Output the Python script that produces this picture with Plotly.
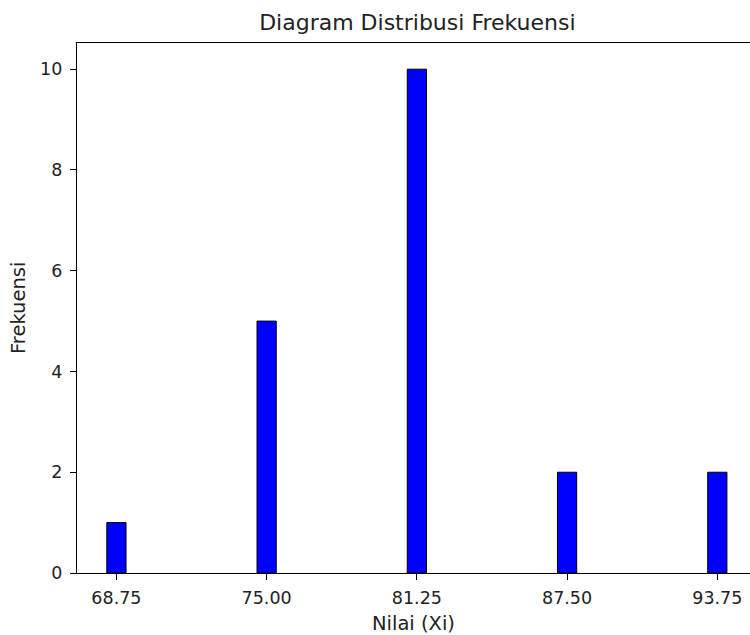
import plotly.graph_objects as go

nilai = [68.75, 75.00, 81.25, 87.50, 93.75]
frekuensi = [1, 5, 10, 2, 2]
x_ticks = [68.75, 75.00, 81.25, 87.50, 93.75]
x_tick_labels = ["68.75", "75.00", "81.25", "87.50", "93.75"]
y_ticks = [0, 2, 4, 6, 8, 10]

FONT = "DejaVu Sans"
TXT = "#222222"

fig = go.Figure()
fig.add_trace(go.Bar(
    x=nilai, y=frekuensi, width=0.8,
    marker=dict(color="#0000ff", line=dict(color="#000000", width=1)),
))

fig.update_layout(
    width=750, height=635,
    margin=dict(l=77, r=0, t=43, b=62, autoexpand=False),
    paper_bgcolor="white", plot_bgcolor="white",
    showlegend=False,
    font=dict(family=FONT, color=TXT, size=17),
    title=dict(text="Diagram Distribusi Frekuensi", x=0.5565, xanchor="center",
               y=1 - 22 / 635, yanchor="middle", automargin=False,
               font=dict(size=22, family=FONT, color=TXT)),
    xaxis=dict(
        range=[67.11, 95.11], tickvals=x_ticks, ticktext=x_tick_labels,
        automargin=False,
        showgrid=False, zeroline=False, showline=True, linecolor="#000000", linewidth=1.2,
        mirror=True, ticks="outside", ticklen=6, tickcolor="#000000",
        ticklabelstandoff=3,
        tickfont=dict(size=17.5, family=FONT, color=TXT),
    ),
    yaxis=dict(
        range=[0, 10.52], tickvals=y_ticks, automargin=False,
        showgrid=False, zeroline=False, showline=True, linecolor="#000000", linewidth=1.2,
        ticks="outside", ticklen=6, tickcolor="#000000",
        ticklabelstandoff=4,
        tickfont=dict(size=17.5, family=FONT, color=TXT),
    ),
    annotations=[
        dict(text="Nilai (Xi)", xref="paper", yref="paper", x=0.5, y=0, yshift=-50,
             xanchor="center", yanchor="middle", showarrow=False,
             font=dict(size=19.5, family=FONT, color=TXT)),
        dict(text="Frekuensi", xref="paper", yref="paper", x=0, xshift=-59, y=0.5,
             xanchor="center", yanchor="middle", textangle=-90, showarrow=False,
             font=dict(size=19.5, family=FONT, color=TXT)),
    ],
)

fig.write_html("out.html", config={"displayModeBar": False},
               post_script="document.body.style.margin='0';document.body.style.overflow='hidden';")
